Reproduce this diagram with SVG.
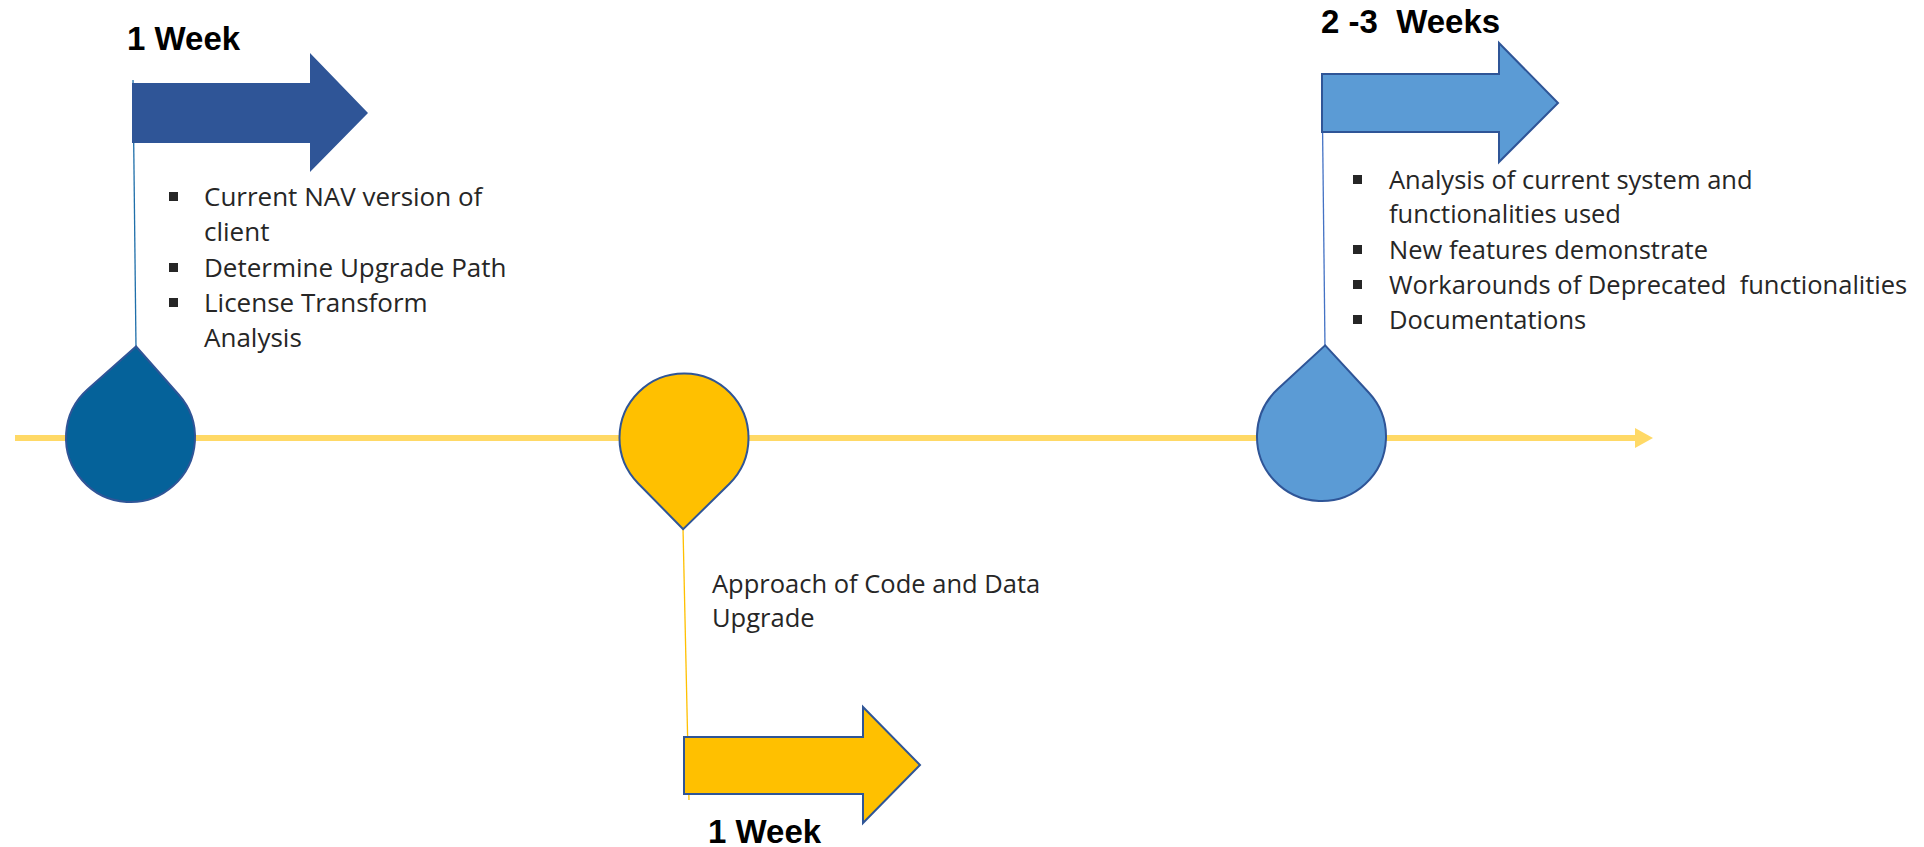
<svg xmlns="http://www.w3.org/2000/svg" width="1924" height="847" viewBox="0 0 1924 847">
<style>
.title{font-family:"Liberation Sans",Arial,sans-serif;font-weight:bold;font-size:33px;fill:#000;white-space:pre}
.body{font-family:"Open Sans","Liberation Sans",sans-serif;font-size:25.5px;fill:#262626;white-space:pre}
.big{font-size:26px}
.bul{fill:#262626}
.drop{stroke:#2F5597;stroke-width:2}
</style>
<defs>
<path id="tear" d="M0,-91.2 L45.6,-45.6 A64.5,64.5 0 1 1 -45.6,-45.6 Z"/>
</defs>
<rect width="1924" height="847" fill="#fff"/>
<g id="connectors">
<line x1="15" y1="438" x2="1637" y2="438" stroke="#FFD966" stroke-width="6"/>
<polygon points="1635,428 1653,438 1635,448" fill="#FFD966"/>
<line x1="133" y1="80" x2="136" y2="348" stroke="#1F6FAA" stroke-width="1.3"/>
<line x1="683" y1="528" x2="689" y2="800" stroke="#FFC000" stroke-width="1.3"/>
<line x1="1322" y1="78" x2="1325" y2="348" stroke="#4472C4" stroke-width="1.3"/>
</g>
<g id="phase1">
<path d="M132,83 H310 V53 L368,113 L310,172 V143 H132 Z" fill="#2F5597"/>
<text class="title" x="127" y="50">1 Week</text>
<use href="#tear" class="drop" fill="#05629A" transform="translate(130.5 437.5) rotate(3.5)"/>
<rect class="bul" x="169" y="192" width="9" height="9"/>
<rect class="bul" x="169" y="263" width="9" height="9"/>
<rect class="bul" x="169" y="298" width="9" height="9"/>
<text class="body big" x="204" y="206">Current NAV version of</text>
<text class="body big" x="204" y="241">client</text>
<text class="body big" x="204" y="277">Determine Upgrade Path</text>
<text class="body big" x="204" y="312">License Transform</text>
<text class="body big" x="204" y="347">Analysis</text>
</g>
<g id="phase2">
<use href="#tear" class="drop" fill="#FFC000" transform="translate(684 438) rotate(180.5)"/>
<text class="body" x="712" y="593">Approach of Code and Data</text>
<text class="body" x="712" y="627">Upgrade</text>
<path d="M684,737 H863 V707 L920,765 L863,823 V794 H684 Z" fill="#FFC000" stroke="#2F5597" stroke-width="2"/>
<text class="title" x="708" y="843">1 Week</text>
</g>
<g id="phase3">
<path d="M1322,74 H1499 V43 L1558,103 L1499,162 V132 H1322 Z" fill="#5B9BD5" stroke="#2F5597" stroke-width="2"/>
<text class="title" x="1321" y="33">2 -3  Weeks</text>
<use href="#tear" class="drop" fill="#5B9BD5" transform="translate(1321.5 436.5) rotate(2.3)"/>
<rect class="bul" x="1353" y="175" width="9" height="9"/>
<rect class="bul" x="1353" y="245" width="9" height="9"/>
<rect class="bul" x="1353" y="280" width="9" height="9"/>
<rect class="bul" x="1353" y="315" width="9" height="9"/>
<text class="body" x="1389" y="189">Analysis of current system and</text>
<text class="body" x="1389" y="223">functionalities used</text>
<text class="body" x="1389" y="259">New features demonstrate</text>
<text class="body" x="1389" y="294">Workarounds of Deprecated  functionalities</text>
<text class="body" x="1389" y="329">Documentations</text>
</g>
</svg>
